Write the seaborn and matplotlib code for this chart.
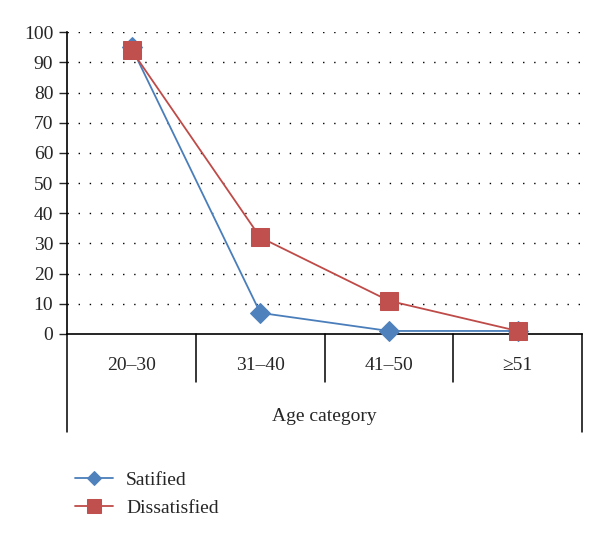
import pandas as pd
import matplotlib.pyplot as plt
import seaborn as sns

# data
age_groups = ["20–30", "31–40", "41–50", "≥51"]
satisfied = [95, 7, 1, 1]
dissatisfied = [94, 32, 11, 1]

sns.set_style("white")
plt.rcParams['font.family'] = ['Liberation Serif', 'DejaVu Serif']

df = pd.DataFrame({"age": age_groups, "Satified": satisfied, "Dissatisfied": dissatisfied})

fig = plt.figure(figsize=(6, 5.4), dpi=100)
ax = fig.add_axes([0.112, 0.3815, 0.858, 0.559])

sns.lineplot(data=df, x="age", y="Satified", ax=ax, color="#4a7ebb", linewidth=1.3,
             marker="D", markersize=10, markerfacecolor="#4f81bd", markeredgecolor="#4f81bd",
             label="Satified", clip_on=False, zorder=3)
sns.lineplot(data=df, x="age", y="Dissatisfied", ax=ax, color="#be4b48", linewidth=1.3,
             marker="s", markersize=13, markerfacecolor="#c0504d", markeredgecolor="#c0504d",
             label="Dissatisfied", clip_on=False, zorder=4)

ax.set_xlim(-0.5, 3.5)
ax.set_ylim(0, 100)
ax.set_yticks(range(0, 101, 10))
ax.set_xticks([])
ax.set_xlabel("")
ax.set_ylabel("")
ax.tick_params(axis="y", left=True, direction="out", length=6, width=1, labelsize=14, pad=4)

for y in range(10, 101, 10):
    ax.axhline(y, color="black", linestyle=(0, (1, 7)), linewidth=1.0, zorder=0)

for side in ["top", "right"]:
    ax.spines[side].set_visible(False)
for side in ["left", "bottom"]:
    ax.spines[side].set_color("black")
    ax.spines[side].set_linewidth(1.2)

# category table under the axis
h_small = 48 / 302
h_big = 98 / 302
for i in range(1, 4):
    x = i / 4
    ax.plot([x, x], [0, -h_small], transform=ax.transAxes, color="black", lw=1.1, clip_on=False)
for x in [0, 1]:
    ax.plot([x, x], [0, -h_big], transform=ax.transAxes, color="black", lw=1.1, clip_on=False)

for i, lab in enumerate(age_groups):
    ax.text((i + 0.5) / 4, -32 / 302, lab, transform=ax.transAxes, ha="center", va="center", fontsize=14)
ax.text(0.5, -83 / 302, "Age category", transform=ax.transAxes, ha="center", va="center", fontsize=14)

handles, labels = ax.get_legend_handles_labels()
ax.legend_.remove()
fig.legend(handles, labels, loc="upper left", bbox_to_anchor=(0.095, 0.16), frameon=False,
           fontsize=14, handlelength=2.0, labelspacing=0.55, handletextpad=0.65, markerscale=0.75)

plt.savefig("out.png", dpi=100)
